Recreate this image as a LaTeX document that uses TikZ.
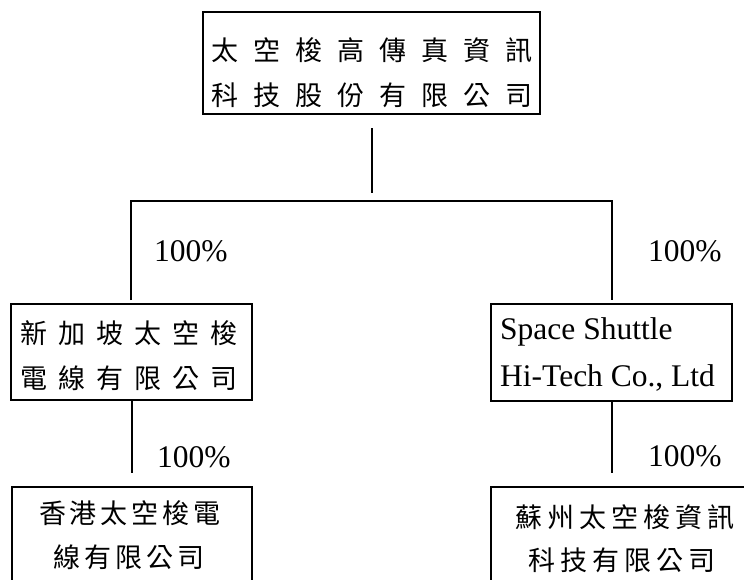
\documentclass[tikz,border=0pt]{standalone}
\usepackage{fontspec}
\setmainfont{Liberation Serif}
\newfontfamily\cjk{Noto Sans CJK TC}
\newcommand\cwA[1]{\makebox[42pt]{#1}}
\newcommand\cwB[1]{\makebox[38pt]{#1}}
\newcommand\cwC[1]{\makebox[31pt]{#1}}
\newcommand\cwD[1]{\makebox[32pt]{#1}}
\begin{document}
\begin{tikzpicture}[x=1pt,y=-1pt,
  box/.style={draw,line width=1.4pt,inner sep=0pt},
  cjkrow/.style={inner sep=0pt,font=\cjk\fontsize{27}{30}\selectfont},
  latin/.style={inner sep=0pt,font=\fontsize{31.5}{36}\selectfont},
  pct/.style={inner sep=0pt,anchor=base west,font=\fontsize{31.5}{36}\selectfont},
  link/.style={line width=1.4pt}]
\useasboundingbox (0,0) rectangle (744,579);
\clip (0,0) rectangle (744,579);
% boxes
\draw[box] (203,12) rectangle (540,114);
\node[inner sep=0pt] (top) at (371.5,63) {};
\draw[box] (11,304) rectangle (252,400);
\draw[box] (491,304) rectangle (732,401);
\draw[box] (12,487) rectangle (252,600);
\draw[box] (491,487) rectangle (760,600);
% texts
\node[cjkrow] (t1) at (372,50) {\cwA{太}\cwA{空}\cwA{梭}\cwA{高}\cwA{傳}\cwA{真}\cwA{資}\cwA{訊}};
\node[cjkrow] (t2) at (372,95) {\cwA{科}\cwA{技}\cwA{股}\cwA{份}\cwA{有}\cwA{限}\cwA{公}\cwA{司}};
\node[cjkrow] (l1) at (129,333) {\cwB{新}\cwB{加}\cwB{坡}\cwB{太}\cwB{空}\cwB{梭}};
\node[cjkrow] (l2) at (129,378) {\cwB{電}\cwB{線}\cwB{有}\cwB{限}\cwB{公}\cwB{司}};
\node[latin,anchor=west] (r1) at (500,332) {Space Shuttle};
\node[latin,anchor=west] (r2) at (500,378) {Hi-Tech Co., Ltd};
\node[cjkrow] (bl1) at (130,513) {\cwC{香}\cwC{港}\cwC{太}\cwC{空}\cwC{梭}\cwC{電}};
\node[cjkrow] (bl2) at (129,557) {\cwC{線}\cwC{有}\cwC{限}\cwC{公}\cwC{司}};
\node[cjkrow] (br1) at (625,517) {\cwD{蘇}\cwD{州}\cwD{太}\cwD{空}\cwD{梭}\cwD{資}\cwD{訊}};
\node[cjkrow] (br2) at (622,560) {\cwD{科}\cwD{技}\cwD{有}\cwD{限}\cwD{公}\cwD{司}};
% percentages
\node[pct] (p1) at (154,261) {100\%};
\node[pct] (p2) at (648,261) {100\%};
\node[pct] (p3) at (157,467) {100\%};
\node[pct] (p4) at (648,466) {100\%};
% connector coordinates
\coordinate (topdown) at (372,128);
\coordinate (topend) at (372,193);
\coordinate (barL) at (131,201);
\coordinate (barR) at (612,201);
\coordinate (legL) at (131,300);
\coordinate (legR) at (612,300);
\coordinate (lmidS) at (132,400);
\coordinate (lmidE) at (132,473);
\coordinate (rmidS) at (612,401);
\coordinate (rmidE) at (612,473);
\draw[link] (topdown) -- (topend);
\draw[link] (legL) -- (barL) -- (barR) -- (legR);
\draw[link] (lmidS) -- (lmidE);
\draw[link] (rmidS) -- (rmidE);
\end{tikzpicture}
\end{document}
